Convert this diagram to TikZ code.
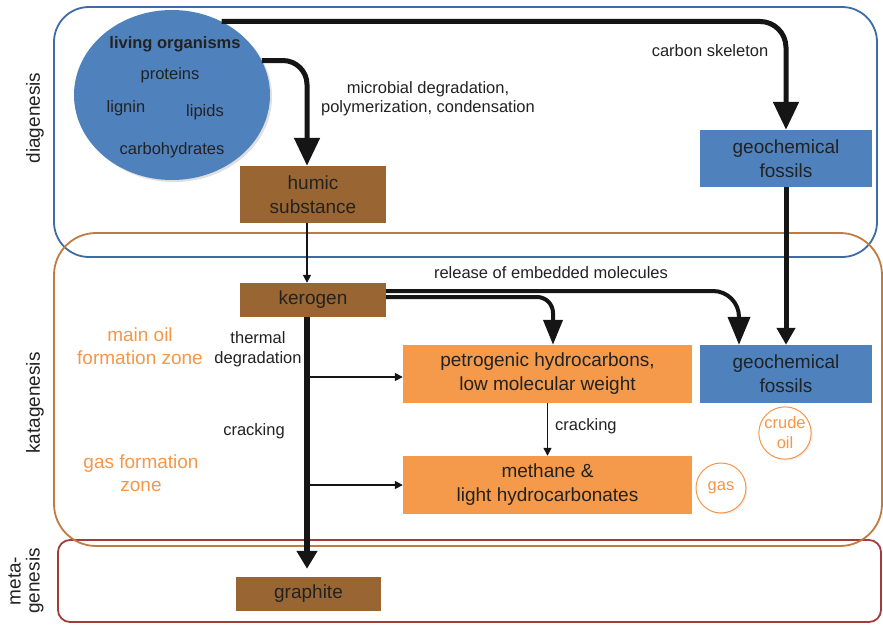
\documentclass[tikz,border=0pt]{standalone}
\usepackage{fontspec}
\setmainfont{Liberation Sans}
\usetikzlibrary{arrows.meta,shadows,shapes.geometric,calc}
\definecolor{diagblue}{HTML}{3E6BA6}
\definecolor{katabrown}{HTML}{C27B3E}
\definecolor{metared}{HTML}{A33B3B}
\definecolor{bluefill}{HTML}{4F81BD}
\definecolor{brownfill}{HTML}{996633}
\definecolor{orangefill}{HTML}{F59A4A}
\definecolor{orangetext}{HTML}{F79646}
\definecolor{textdark}{HTML}{222222}
\definecolor{arrowblack}{HTML}{151515}
\begin{document}
\begin{tikzpicture}[x=1pt,y=-1pt,
  zone/.style={line width=1.8pt, rounded corners=35pt},
  box/.style={draw=none, inner sep=0pt, text=textdark, align=center, font=\fontsize{19}{24}\selectfont},
  lbl/.style={text=textdark, align=center, font=\fontsize{16.5}{19.5}\selectfont, inner sep=0pt},
  zonelbl/.style={text=orangetext, align=center, font=\fontsize{19}{23}\selectfont, inner sep=0pt},
  sidelbl/.style={text=textdark, align=center, rotate=90, font=\fontsize{19}{19}\selectfont, inner sep=0pt},
  bigarrow/.style={draw=arrowblack, line width=5pt, rounded corners=24pt, -{Triangle[length=28pt,width=25pt]}},
  midarrow/.style={draw=arrowblack, line width=4pt, rounded corners=22pt, -{Triangle[length=25pt,width=20pt]}},
  thinarrow/.style={draw=arrowblack, line width=1.5pt, -{Triangle[length=8pt,width=8pt]}},
  phase/.style={circle, draw=orangetext, line width=1pt, fill=white, minimum size=50pt, inner sep=0pt,
    text=orangetext, align=center, font=\fontsize{16.5}{20}\selectfont,
    drop shadow={shadow xshift=1.5pt, shadow yshift=-1.5pt, opacity=0.15}}
]
\useasboundingbox (0,0) rectangle (883,624);

% zones
\draw[zone, draw=diagblue] (54,7) rectangle (877,257);
\draw[zone, draw=metared, rounded corners=12pt] (58,540) rectangle (881,622);
\draw[zone, draw=katabrown, rounded corners=42pt] (54,233) rectangle (882,546);

\node[sidelbl] (ldiag) at (35,118) {diagenesis};
\node[sidelbl] (lkata) at (35,403) {katagenesis};
\node[sidelbl] (lmeta) at (26,581) {meta-\\genesis};

% organisms ellipse
\node[ellipse, fill=bluefill, minimum width=196pt, minimum height=170pt, inner sep=0pt,
  drop shadow={shadow xshift=2pt, shadow yshift=-2pt, opacity=0.25}] (org) at (172,95) {};
\node[lbl, font=\fontsize{16.5}{19.5}\selectfont\bfseries] (tliv) at (175,44) {living organisms};
\node[lbl] (tprot) at (170,75) {proteins};
\node[lbl] (tlig) at (126,108) {lignin};
\node[lbl] (tlip) at (205,112) {lipids};
\node[lbl] (tcarb) at (172,150) {carbohydrates};

% boxes
\node[box, fill=brownfill, minimum width=146pt, minimum height=57pt] (humic) at (313,194.5) {humic\\substance};
\node[box, fill=brownfill, minimum width=146pt, minimum height=34pt] (kerogen) at (313,300) {kerogen};
\node[box, fill=bluefill, minimum width=172pt, minimum height=57pt] (geo1) at (786,158.5) {geochemical\\fossils};
\node[box, fill=orangefill, minimum width=289pt, minimum height=58pt] (petro) at (547.5,374) {petrogenic hydrocarbons,\\low molecular weight};
\node[box, fill=bluefill, minimum width=172pt, minimum height=58pt] (geo2) at (786,374) {geochemical\\fossils};
\node[box, fill=orangefill, minimum width=289pt, minimum height=58pt] (methane) at (547.5,485) {methane \&\\light hydrocarbonates};
\node[box, fill=brownfill, minimum width=145pt, minimum height=34pt] (graphite) at (308.5,594) {graphite};

\node[phase] (crude) at (785,433) {crude\\oil};
\node[phase] (gas) at (721,488) {gas};

% labels
\node[lbl] (lmic) at (428,98.5) {microbial degradation,\\polymerization, condensation};
\node[lbl] (lcarb) at (710,51) {carbon skeleton};
\node[lbl] (lrel) at (551,273) {release of embedded molecules};
\node[lbl] (lthe) at (258,349) {thermal\\degradation};
\node[lbl] (lcr1) at (254,431) {cracking};
\node[lbl, anchor=west] (lcr2) at (555,426) {cracking};
\node[zonelbl] (zoil) at (140,346.5) {main oil\\formation zone};
\node[zonelbl] (zgas) at (141,473.5) {gas formation\\zone};

% arrows
\draw[bigarrow] (org.21) -| ([xshift=-6pt]humic.north);
\draw[bigarrow, rounded corners=26pt] (org.56) -| (geo1.north);
\draw[draw=arrowblack, line width=5pt, -{Triangle[length=17pt,width=18pt]}] (geo1.south) -- (geo2.north);
\draw[thinarrow] ([xshift=-6pt]humic.south) -- ([xshift=-6pt]kerogen.north);
\draw[midarrow, rounded corners=26pt, -{Triangle[length=28pt,width=22pt]}] ([yshift=9pt]kerogen.east) -| ([xshift=-47pt]geo2.north);
\draw[midarrow, rounded corners=16pt, -{Triangle[length=25pt,width=19pt]}] ([yshift=3pt]kerogen.east) -| ([xshift=5.5pt]petro.north);
\coordinate (ktop) at ([xshift=-6pt]kerogen.south);
\coordinate (kend) at ($(ktop |- graphite.north)+(0,-8)$);
\draw[draw=arrowblack, line width=6pt, -{Triangle[length=18pt,width=20pt]}] (ktop) -- (kend);
\coordinate (y1) at (0,377);
\coordinate (y2) at (0,485);
\coordinate (b1) at (ktop |- y1);
\coordinate (b2) at (ktop |- y2);
\draw[thinarrow] (b1) -- (b1 -| petro.west);
\draw[thinarrow] (b2) -- (b2 -| methane.west);
\draw[thinarrow] (petro.south) -- (methane.north);
\end{tikzpicture}
\end{document}
